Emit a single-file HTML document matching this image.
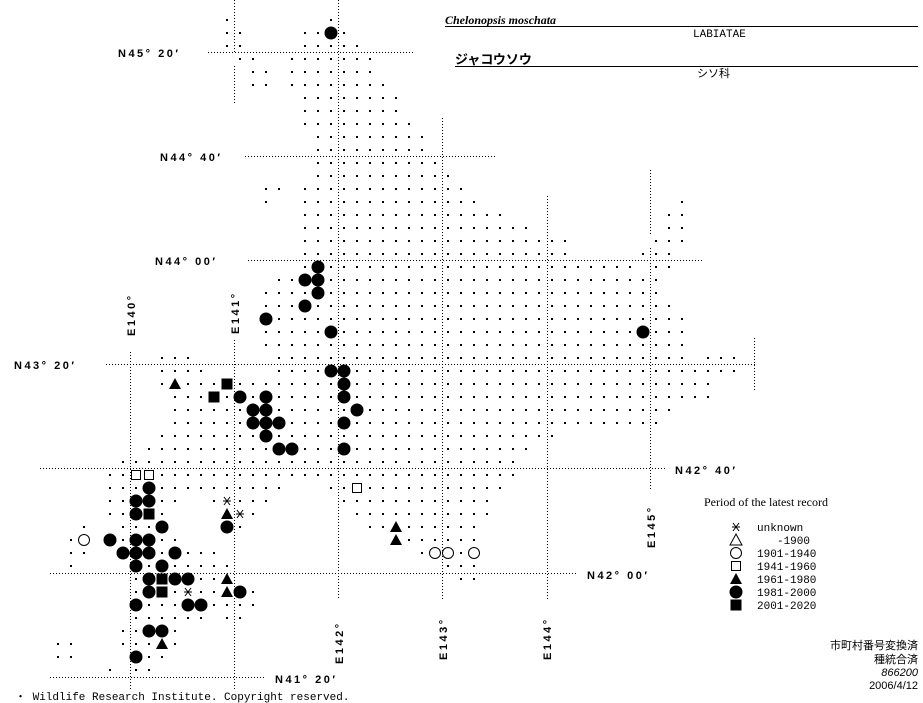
<!DOCTYPE html>
<html><head><meta charset="utf-8">
<style>
html,body{margin:0;padding:0;background:#fff;}
body{width:923px;height:703px;overflow:hidden;position:relative;}
svg{position:absolute;left:0;top:0;}
.lab{font-family:"Liberation Sans",sans-serif;font-weight:bold;font-size:11px;letter-spacing:2.5px;fill:#000;}
.mono{font-family:"Liberation Mono",monospace;font-size:11px;fill:#000;}
.jp{font-family:"Liberation Sans","Noto Sans CJK JP",sans-serif;font-size:11px;fill:#000;}
</style></head><body>
<svg id="m" width="923" height="703" xmlns="http://www.w3.org/2000/svg">
<g stroke="#000" stroke-width="1" stroke-dasharray="1,2" fill="none">
<line x1="208" y1="52.5" x2="415" y2="52.5"/>
<line x1="245" y1="156.5" x2="495" y2="156.5"/>
<line x1="248" y1="260.5" x2="703" y2="260.5"/>
<line x1="106" y1="364.5" x2="755" y2="364.5"/>
<line x1="40" y1="468.5" x2="665" y2="468.5"/>
<line x1="50" y1="573.5" x2="578" y2="573.5"/>
<line x1="50" y1="677.5" x2="265" y2="677.5"/>
<line x1="130.5" y1="352" x2="130.5" y2="690"/>
<line x1="234.5" y1="0" x2="234.5" y2="52"/>
<line x1="234.5" y1="66" x2="234.5" y2="104"/>
<line x1="234.5" y1="340" x2="234.5" y2="690"/>
<line x1="338.5" y1="0" x2="338.5" y2="600"/>
<line x1="442.5" y1="118" x2="442.5" y2="600"/>
<line x1="547.5" y1="196" x2="547.5" y2="600"/>
<line x1="650.5" y1="170" x2="650.5" y2="234"/>
<line x1="650.5" y1="248" x2="650.5" y2="490"/>
<line x1="754.5" y1="338" x2="754.5" y2="390"/>
</g>
<text class="lab" x="118" y="57">N45° 20′</text>
<text class="lab" x="160" y="161">N44° 40′</text>
<text class="lab" x="155" y="265">N44° 00′</text>
<text class="lab" x="14" y="369">N43° 20′</text>
<text class="lab" x="675" y="474">N42° 40′</text>
<text class="lab" x="587" y="579">N42° 00′</text>
<text class="lab" x="275" y="683">N41° 20′</text>
<text class="lab" transform="translate(135,336) rotate(-90)">E140°</text>
<text class="lab" transform="translate(239,334) rotate(-90)">E141°</text>
<text class="lab" transform="translate(343,664) rotate(-90)">E142°</text>
<text class="lab" transform="translate(447,660) rotate(-90)">E143°</text>
<text class="lab" transform="translate(551,660) rotate(-90)">E144°</text>
<text class="lab" transform="translate(655,548) rotate(-90)">E145°</text>

<text x="445" y="24" style="font-family:'Liberation Serif',serif;font-style:italic;font-weight:bold;font-size:12px">Chelonopsis moschata</text>
<line x1="445" y1="26.5" x2="918" y2="26.5" stroke="#000"/>
<text class="mono" x="693" y="37">LABIATAE</text>
<text x="455" y="64" style="font-family:'Liberation Sans','Noto Sans CJK JP',sans-serif;font-size:13px;font-weight:bold">ジャコウソウ</text>
<line x1="455" y1="66.5" x2="918" y2="66.5" stroke="#000"/>
<text class="jp" x="697" y="77">シソ科</text>

<text class="mono" x="704" y="506" style="font-family:'Liberation Serif',serif;font-size:12px">Period of the latest record</text>
<g class="mono">
<text x="757" y="531">unknown</text>
<text x="810" y="544" text-anchor="end">-1900</text>
<text x="757" y="557">1901-1940</text>
<text x="757" y="570">1941-1960</text>
<text x="757" y="583">1961-1980</text>
<text x="757" y="596">1981-2000</text>
<text x="757" y="609">2001-2020</text>
</g>
<g class="jp" text-anchor="end">
<text x="918" y="649">市町村番号変換済</text>
<text x="918" y="663">種統合済</text>
<text x="918" y="676" style="font-style:italic">866200</text>
<text x="918" y="689">2006/4/12</text>
</g>
<text class="mono" x="15" y="700" style="font-size:11px">・ Wildlife Research Institute. Copyright reserved.</text>
<g id="d"></g>
</svg>
<script>
var rows={0:"0,8",1:"0,1,6..9",2:"0,1,6..10",3:"1,2,5..11",4:"2,3,5..11",5:"2,3,5..12",6:"6..13",7:"6..13",8:"6..14",9:"7..15",10:"7..15",11:"7..16",12:"7..17",13:"3,4,6..18",14:"3,6..19,35",15:"6..21,34,35",16:"6..23,34,35",17:"6..26,33..35",18:"6..26,32..34",19:"6..31,33,34",20:"4..33",21:"3..33",22:"3..34",23:"3..35",24:"3..35",25:"3..35",26:"-5..-3,4..35,37..39",27:"-5..-2,4..39",28:"-5..37",29:"-4..37",30:"-4..34",31:"-4..33",32:"-5..25",33:"-6..23",34:"-8..22",35:"-9..22",36:"-9..4,8..21",37:"-9..-4,-1..3,9..20",38:"-9..-5,0..2,10..20",39:"-11,-8..-5,0,1,11..19",40:"-12,-11,-9..-4,13..19",41:"-12,-11,-8..-1,15..19",42:"-12,-7..0,17..19",43:"-7..0,18,19",44:"-7..2",45:"-7..2",46:"-7..-2,0,1",47:"-8..-4",48:"-13,-12,-8..-4",49:"-13,-12,-7..-5",50:"-9,-7,-6"};
var big=[[8,1],[7,19],[6,20],[7,20],[7,21],[6,22],[3,23],[8,24],[32,24],[8,27],[9,27],[9,28],[1,29],[3,29],[9,29],[2,30],[3,30],[10,30],[2,31],[3,31],[4,31],[9,31],[3,32],[4,33],[5,33],[9,33],[-6,36],[-7,37],[-6,37],[-7,38],[-5,39],[0,39],[-9,40],[-7,40],[-6,40],[-8,41],[-7,41],[-6,41],[-4,41],[-7,42],[-5,42],[-6,43],[-4,43],[-3,43],[-6,44],[1,44],[-7,45],[-3,45],[-2,45],[-6,47],[-5,47],[-7,49]];
var sq=[[0,28],[-1,29],[-6,38],[-5,43],[-5,44]],osq=[[-7,35],[-6,35],[10,36]],tri=[[-4,28],[0,38],[13,39],[13,40],[0,43],[0,44],[-5,48]],oc=[[-11,40],[16,41],[17,41],[19,41]],ast=[[0,37],[1,38],[-3,44]];
var occ={};[big,sq,osq,tri,oc,ast].forEach(function(a){a.forEach(function(p){occ[p[0]+","+p[1]]=1;});});
var X=function(k){return 227+13*k;},Y=function(j){return 20+13*j;};
var s="";
for(var j in rows){rows[j].split(",").forEach(function(t){var a,b;if(t.indexOf("..")>0){var q=t.split("..");a=+q[0];b=+q[1];}else{a=b=+t;}for(var k=a;k<=b;k++){if(occ[k+","+j])continue;s+='<rect x="'+(X(k)-1)+'" y="'+(Y(+j)-1)+'" width="2" height="2"/>';}});}
function sym(t,x,y){
 if(t=="big")return '<circle cx="'+x+'" cy="'+y+'" r="6.5"/>';
 if(t=="sq")return '<rect x="'+(x-5.5)+'" y="'+(y-5.5)+'" width="11" height="11"/>';
 if(t=="osq")return '<rect x="'+(x-4.5)+'" y="'+(y-4.5)+'" width="9" height="9" fill="#fff" stroke="#000"/>';
 if(t=="tri")return '<polygon points="'+x+','+(y-6)+' '+(x+6)+','+(y+5)+' '+(x-6)+','+(y+5)+'"/>';
 if(t=="otri")return '<polygon points="'+x+','+(y-6)+' '+(x+6)+','+(y+5)+' '+(x-6)+','+(y+5)+'" fill="#fff" stroke="#000"/>';
 if(t=="oc")return '<circle cx="'+x+'" cy="'+y+'" r="5.5" fill="#fff" stroke="#000"/>';
 if(t=="ast")return '<g stroke="#000" stroke-width="1"><line x1="'+(x-4)+'" y1="'+y+'" x2="'+(x+4)+'" y2="'+y+'"/><line x1="'+(x-3)+'" y1="'+(y-4)+'" x2="'+(x+3)+'" y2="'+(y+4)+'"/><line x1="'+(x+3)+'" y1="'+(y-4)+'" x2="'+(x-3)+'" y2="'+(y+4)+'"/></g>';
}
[["big",big],["sq",sq],["osq",osq],["tri",tri],["oc",oc],["ast",ast]].forEach(function(p){p[1].forEach(function(c){s+=sym(p[0],X(c[0]),Y(c[1]));});});
var L=["ast","otri","oc","osq","tri","big","sq"];
L.forEach(function(t,i){s+=sym(t,736,527+13*i);});
document.getElementById("d").innerHTML=s;
</script>
</body></html>
